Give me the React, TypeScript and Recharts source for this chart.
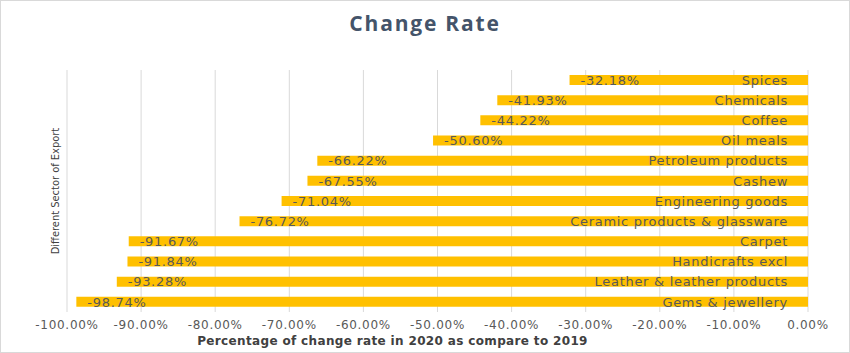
import { BarChart, Bar, XAxis, YAxis, CartesianGrid, LabelList, Label } from 'recharts'

const sectors = [
  'Spices',
  'Chemicals',
  'Coffee',
  'Oil meals',
  'Petroleum products',
  'Cashew',
  'Engineering goods',
  'Ceramic products & glassware',
  'Carpet',
  'Handicrafts excl',
  'Leather & leather products',
  'Gems & jewellery',
]

const changeRates = [
  -0.3218, -0.4193, -0.4422, -0.506, -0.6622, -0.6755,
  -0.7104, -0.7672, -0.9167, -0.9184, -0.9328, -0.9874,
]

const xTicks = [-1, -0.9, -0.8, -0.7, -0.6, -0.5, -0.4, -0.3, -0.2, -0.1, 0]

const data = sectors.map((name, i) => ({ name, rate: changeRates[i] }))

const BAR_COLOR = '#FFC000'
const TEXT_COLOR = '#595959'
const LABEL_FONT = "'DejaVu Sans', sans-serif"

const pct = (v: number) => `${(v * 100).toFixed(2)}%`

// pull the bar box from label props (viewBox in v3, flat props otherwise)
const box = (props: any) => {
  const vb = props.viewBox || props
  const x = Number(vb.x)
  const w = Number(vb.width)
  return {
    left: Math.min(x, x + w),
    right: Math.max(x, x + w),
    midY: Number(vb.y) + Number(vb.height) / 2,
  }
}

const ValueLabel = (props: any) => {
  const { left, midY } = box(props)
  return (
    <text
      x={left + 11}
      y={midY}
      dy="0.36em"
      fontSize={13}
      letterSpacing={0.7}
      fill={TEXT_COLOR}
      fontFamily={LABEL_FONT}
    >
      {pct(Number(props.value))}
    </text>
  )
}

const NameLabel = (props: any) => {
  const { right, midY } = box(props)
  return (
    <text
      x={right - 20}
      y={midY}
      dy="0.36em"
      fontSize={13}
      letterSpacing={0.7}
      fill={TEXT_COLOR}
      fontFamily={LABEL_FONT}
      textAnchor="end"
    >
      {props.value}
    </text>
  )
}

export default function App() {
  return (
    <div
      style={{
        position: 'absolute',
        left: 0,
        top: 0,
        width: 848,
        height: 351,
        border: '1px solid #d9d9d9',
        background: '#fff',
      }}
    >
      <div
        style={{
          position: 'absolute',
          left: 0,
          top: 8,
          width: 848,
          textAlign: 'center',
          fontFamily: "'Open Sans', sans-serif",
          fontWeight: 700,
          fontSize: 21,
          letterSpacing: 1.8,
          color: '#44546A',
        }}
      >
        Change Rate
      </div>
      <div
        style={{
          position: 'absolute',
          left: 54,
          top: 190,
          transform: 'translate(-50%, -50%) rotate(-90deg)',
          whiteSpace: 'nowrap',
          fontFamily: "'Liberation Sans Narrow', 'DejaVu Sans Condensed', sans-serif",
          fontSize: 11,
          color: '#404040',
        }}
      >
        Different Sector of Export
      </div>
      <div style={{ position: 'absolute', left: -1, top: -1 }}>
        <BarChart
          width={850}
          height={353}
          data={data}
          layout="vertical"
          margin={{ top: 70, right: 42, left: 67, bottom: 0 }}
          barSize={10}
        >
          <CartesianGrid horizontal={false} stroke="#d9d9d9" />
          <XAxis
            type="number"
            domain={[-1, 0]}
            ticks={xTicks}
            tickFormatter={pct}
            axisLine={false}
            tickLine={false}
            height={41}
            tick={{ fontSize: 12, fill: TEXT_COLOR, fontFamily: LABEL_FONT, letterSpacing: 0.7 }}
          >
            <Label
              value="Percentage of change rate in 2020 as compare to 2019"
              position="insideBottom"
              offset={8}
              dx={-45}
              style={{ fontSize: 12, fontWeight: 700, fill: '#404040', fontFamily: LABEL_FONT, letterSpacing: 0.35 }}
            />
          </XAxis>
          <YAxis type="category" dataKey="name" hide />
          <Bar dataKey="rate" fill={BAR_COLOR} isAnimationActive={false}>
            <LabelList dataKey="rate" content={ValueLabel} />
            <LabelList dataKey="name" content={NameLabel} />
          </Bar>
        </BarChart>
      </div>
    </div>
  )
}
